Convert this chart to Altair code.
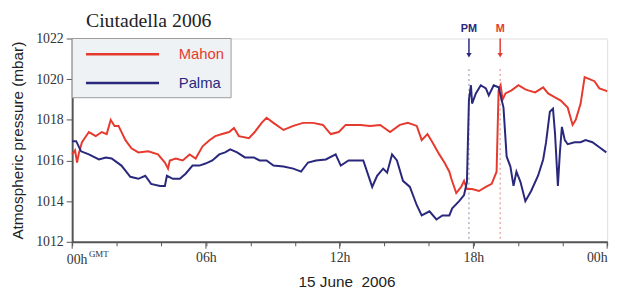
import altair as alt
import pandas as pd

# ---- data (hours since 00h GMT, pressure in mbar) ----
mahon_hour = [0.00, 0.13, 0.22, 0.31, 0.44, 0.75, 1.06, 1.33, 1.55, 1.73, 1.90, 2.08, 2.39, 2.66, 2.97,
              3.41, 3.85, 4.16, 4.30, 4.38, 4.65, 4.96, 5.27, 5.54, 5.85, 6.16, 6.42, 6.73, 7.04, 7.26,
              7.48, 7.93, 8.19, 8.50, 8.72, 9.03, 9.48, 9.92, 10.36, 10.81, 11.25, 11.60, 11.96, 12.27,
              12.58, 12.93, 13.37, 13.82, 14.26, 14.70, 15.06, 15.46, 15.68, 15.94, 16.16, 16.47, 16.70,
              16.92, 17.01, 17.23, 17.45, 17.58, 17.71, 17.94, 18.25, 18.56, 18.82, 19.04, 19.13, 19.22,
              19.31, 19.44, 19.71, 20.02, 20.33, 20.46, 20.77, 21.13, 21.35, 21.66, 21.92, 22.23, 22.45,
              22.59, 22.81, 22.99, 23.21, 23.43, 23.65, 23.91, 24.00]
mahon_mbar = [1016.3, 1016.5, 1015.9, 1016.4, 1016.9, 1017.4, 1017.2, 1017.4, 1017.3, 1018.0, 1017.7, 1017.7,
              1017.0, 1016.6, 1016.4, 1016.45, 1016.3, 1015.9, 1015.6, 1016.0, 1016.1, 1016.0, 1016.3, 1016.1,
              1016.7, 1017.0, 1017.2, 1017.3, 1017.4, 1017.6, 1017.2, 1017.1, 1017.4, 1017.85, 1018.1,
              1017.85, 1017.5, 1017.7, 1017.85, 1017.85, 1017.75, 1017.3, 1017.4, 1017.75, 1017.75,
              1017.75, 1017.7, 1017.75, 1017.4, 1017.75, 1017.85, 1017.7, 1017.0, 1017.3, 1016.9, 1016.3,
              1015.9, 1015.45, 1015.1, 1014.4, 1014.7, 1015.0, 1014.6, 1014.6, 1014.5, 1014.7, 1014.85,
              1015.45, 1019.45, 1019.7, 1019.0, 1019.3, 1019.45, 1019.7, 1019.5, 1019.45, 1019.35, 1019.6,
              1019.3, 1019.1, 1018.95, 1018.6, 1017.75, 1018.0, 1018.8, 1020.1, 1020.0, 1019.9, 1019.55,
              1019.45, 1019.4]

palma_hour = [0.00, 0.18, 0.40, 0.75, 1.20, 1.51, 1.77, 2.21, 2.61, 2.97, 3.28, 3.54, 3.94, 4.16, 4.25,
              4.52, 4.83, 5.09, 5.40, 5.71, 5.98, 6.29, 6.60, 6.86, 7.09, 7.40, 7.75, 8.15, 8.41, 8.72,
              9.03, 9.48, 9.92, 10.27, 10.58, 10.94, 11.38, 11.82, 12.05, 12.40, 12.71, 13.06, 13.46,
              13.68, 13.95, 14.13, 14.35, 14.57, 14.84, 15.15, 15.46, 15.68, 16.03, 16.34, 16.61, 16.92,
              17.05, 17.36, 17.58, 17.71, 17.80, 17.89, 17.94, 18.11, 18.33, 18.56, 18.69, 18.91, 19.13,
              19.35, 19.49, 19.66, 19.80, 19.93, 20.11, 20.33, 20.59, 20.90, 21.13, 21.26, 21.43, 21.57,
              21.66, 21.79, 21.88, 21.97, 22.10, 22.23, 22.54, 22.81, 23.03, 23.34, 23.65, 23.96]
palma_mbar = [1016.95, 1016.95, 1016.45, 1016.3, 1016.05, 1016.15, 1016.1, 1015.75, 1015.2, 1015.1, 1015.25,
              1014.85, 1014.75, 1014.75, 1015.25, 1015.1, 1015.1, 1015.35, 1015.75, 1015.75, 1015.85,
              1016.0, 1016.3, 1016.4, 1016.55, 1016.4, 1016.15, 1016.15, 1016.0, 1016.0, 1015.75, 1015.7,
              1015.6, 1015.45, 1015.9, 1016.0, 1016.05, 1016.3, 1015.75, 1016.0, 1016.0, 1016.0, 1014.7,
              1015.25, 1015.6, 1015.4, 1016.3, 1016.0, 1015.0, 1014.7, 1013.8, 1013.3, 1013.5, 1013.1,
              1013.3, 1013.3, 1013.65, 1014.0, 1014.3, 1014.95, 1019.0, 1019.7, 1018.8, 1019.3, 1019.7,
              1019.55, 1019.2, 1019.7, 1019.6, 1018.6, 1016.2, 1015.7, 1014.75, 1015.45, 1014.95, 1014.0,
              1014.5, 1015.25, 1016.05, 1016.9, 1018.4, 1018.55, 1017.35, 1014.75, 1016.4, 1017.65,
              1017.0, 1016.8, 1016.9, 1016.9, 1017.0, 1016.9, 1016.65, 1016.4]

series_names = ["Mahon", "Palma"]
series_colors = ["#e63a2e", "#29287c"]

event_labels = ["PM", "M"]
event_hours = [17.8, 19.2]
event_colors = ["#29287c", "#e63a2e"]
event_dot_colors = ["#8a8aa8", "#d9827c"]

major_hours = [0, 6, 12, 18, 24]
chart_title = "Ciutadella 2006"

# ---- tables ----
df = pd.concat([
    pd.DataFrame({"hour": mahon_hour, "mbar": mahon_mbar, "series": "Mahon"}),
    pd.DataFrame({"hour": palma_hour, "mbar": palma_mbar, "series": "Palma"}),
])
ev = pd.DataFrame({"label": event_labels, "hour": event_hours,
                   "color": event_colors, "dot": event_dot_colors})
majors = pd.DataFrame({"hour": major_hours})

W, H = 542, 206
xscale = alt.Scale(domain=[0, 24], nice=False, zero=False)
yscale = alt.Scale(domain=[1012, 1022], nice=False, zero=False)

x_axis = alt.Axis(
    values=list(range(0, 25)),
    labelExpr="datum.value % 6 != 0 || datum.value == 0 ? '' : (datum.value % 24 < 10 ? '0' : '') + (datum.value % 24) + 'h'",
    tickSize=4, tickColor="#555", domainColor="#555", domainWidth=2,
    labelFont="Liberation Serif", labelFontSize=14, labelColor="#333", labelPadding=5,
    title="15 June \u00a02006", titleFont="Liberation Sans", titleFontSize=15.5,
    titleFontWeight="normal", titleColor="#222",
    titleX=278, titleY=40, titleBaseline="middle", titleAlign="center",
    grid=False,
)
y_axis = alt.Axis(
    values=[1012, 1014, 1016, 1018, 1020, 1022], format="d",
    tickSize=6, tickColor="#555", domainColor="#555", domainWidth=2,
    labelFont="Liberation Serif", labelFontSize=14, labelColor="#333", labelPadding=3,
    title="Atmospheric pressure (mbar)", titleFont="Liberation Sans", titleFontSize=15.5,
    titleFontWeight="normal", titleColor="#222", titlePadding=10,
    grid=False,
)

lines = alt.Chart(df).mark_line(strokeWidth=2, interpolate="linear").encode(
    x=alt.X("hour:Q", scale=xscale, axis=x_axis),
    y=alt.Y("mbar:Q", scale=yscale, axis=y_axis),
    color=alt.Color("series:N", scale=alt.Scale(domain=series_names, range=series_colors), legend=None),
    detail="series:N",
)

major_ticks = alt.Chart(majors).mark_rule(color="#555", strokeWidth=1).encode(
    x=alt.X("hour:Q", scale=xscale), y=alt.value(H), y2=alt.value(H + 7)
)

dotted = alt.Chart(ev).mark_rule(strokeWidth=1, strokeDash=[2, 3]).encode(
    x=alt.X("hour:Q", scale=xscale), y=alt.value(31), y2=alt.value(H),
    color=alt.Color("dot:N", scale=None),
)
arrow_shaft = alt.Chart(ev).mark_rule(strokeWidth=1.5).encode(
    x=alt.X("hour:Q", scale=xscale), y=alt.value(0), y2=alt.value(16),
    color=alt.Color("color:N", scale=None),
)
arrow_head = alt.Chart(ev).mark_point(shape="triangle-down", filled=True, size=28, opacity=1).encode(
    x=alt.X("hour:Q", scale=xscale), y=alt.value(17),
    color=alt.Color("color:N", scale=None),
)
ev_text = alt.Chart(ev).mark_text(font="Liberation Sans", fontSize=11, fontWeight="bold",
                                  baseline="middle", align="center").encode(
    x=alt.X("hour:Q", scale=xscale), y=alt.value(-10), text="label:N",
    color=alt.Color("color:N", scale=None),
)

first_label = alt.Chart(pd.DataFrame({"hour": [0], "t": ["00h"]})).mark_text(
    font="Liberation Serif", fontSize=14, color="#333", align="center", baseline="middle", dx=5
).encode(x=alt.X("hour:Q", scale=xscale), y=alt.value(H + 18), text="t:N")
gmt = alt.Chart(pd.DataFrame({"hour": [0], "t": ["GMT"]})).mark_text(
    font="Liberation Serif", fontSize=9, color="#333", align="left", baseline="middle", dx=17
).encode(x=alt.X("hour:Q", scale=xscale), y=alt.value(H + 12), text="t:N")

title_mark = alt.Chart(pd.DataFrame({"t": [chart_title]})).mark_text(
    font="Liberation Serif", fontSize=20, color="#222", align="left", baseline="alphabetic"
).encode(x=alt.value(14), y=alt.value(-12), text="t:N")

# ---- legend box (decoration) ----
leg = pd.DataFrame({"series": series_names, "color": series_colors, "ypix": [16, 45]})
leg_box = alt.Chart(pd.DataFrame({"a": [0]})).mark_rect(
    fill="#eef2f5", stroke="#9a9a9a", strokeWidth=1
).encode(x=alt.value(0), x2=alt.value(161), y=alt.value(0), y2=alt.value(60))
leg_lines = alt.Chart(leg).mark_rule(strokeWidth=2.5).encode(
    x=alt.value(14), x2=alt.value(88), y=alt.Y("ypix:Q", scale=None),
    color=alt.Color("color:N", scale=None),
)
leg_text = alt.Chart(leg).mark_text(font="Liberation Sans", fontSize=15, align="left", baseline="middle").encode(
    x=alt.value(108), y=alt.Y("ypix:Q", scale=None), text="series:N",
    color=alt.Color("color:N", scale=None),
)

chart = alt.layer(
    dotted, lines, major_ticks, arrow_shaft, arrow_head, ev_text, first_label, gmt, title_mark,
    leg_box, leg_lines, leg_text,
).properties(
    width=W, height=H,
    autosize="none",
    padding={"left": 65, "top": 29, "right": 12, "bottom": 54},
).configure_view(
    fill="#d9e2eb", stroke="#7a7a7a", strokeWidth=1.5
).configure(background="white")

chart.save("out.html", embed_options={"renderer": "svg", "actions": False})
